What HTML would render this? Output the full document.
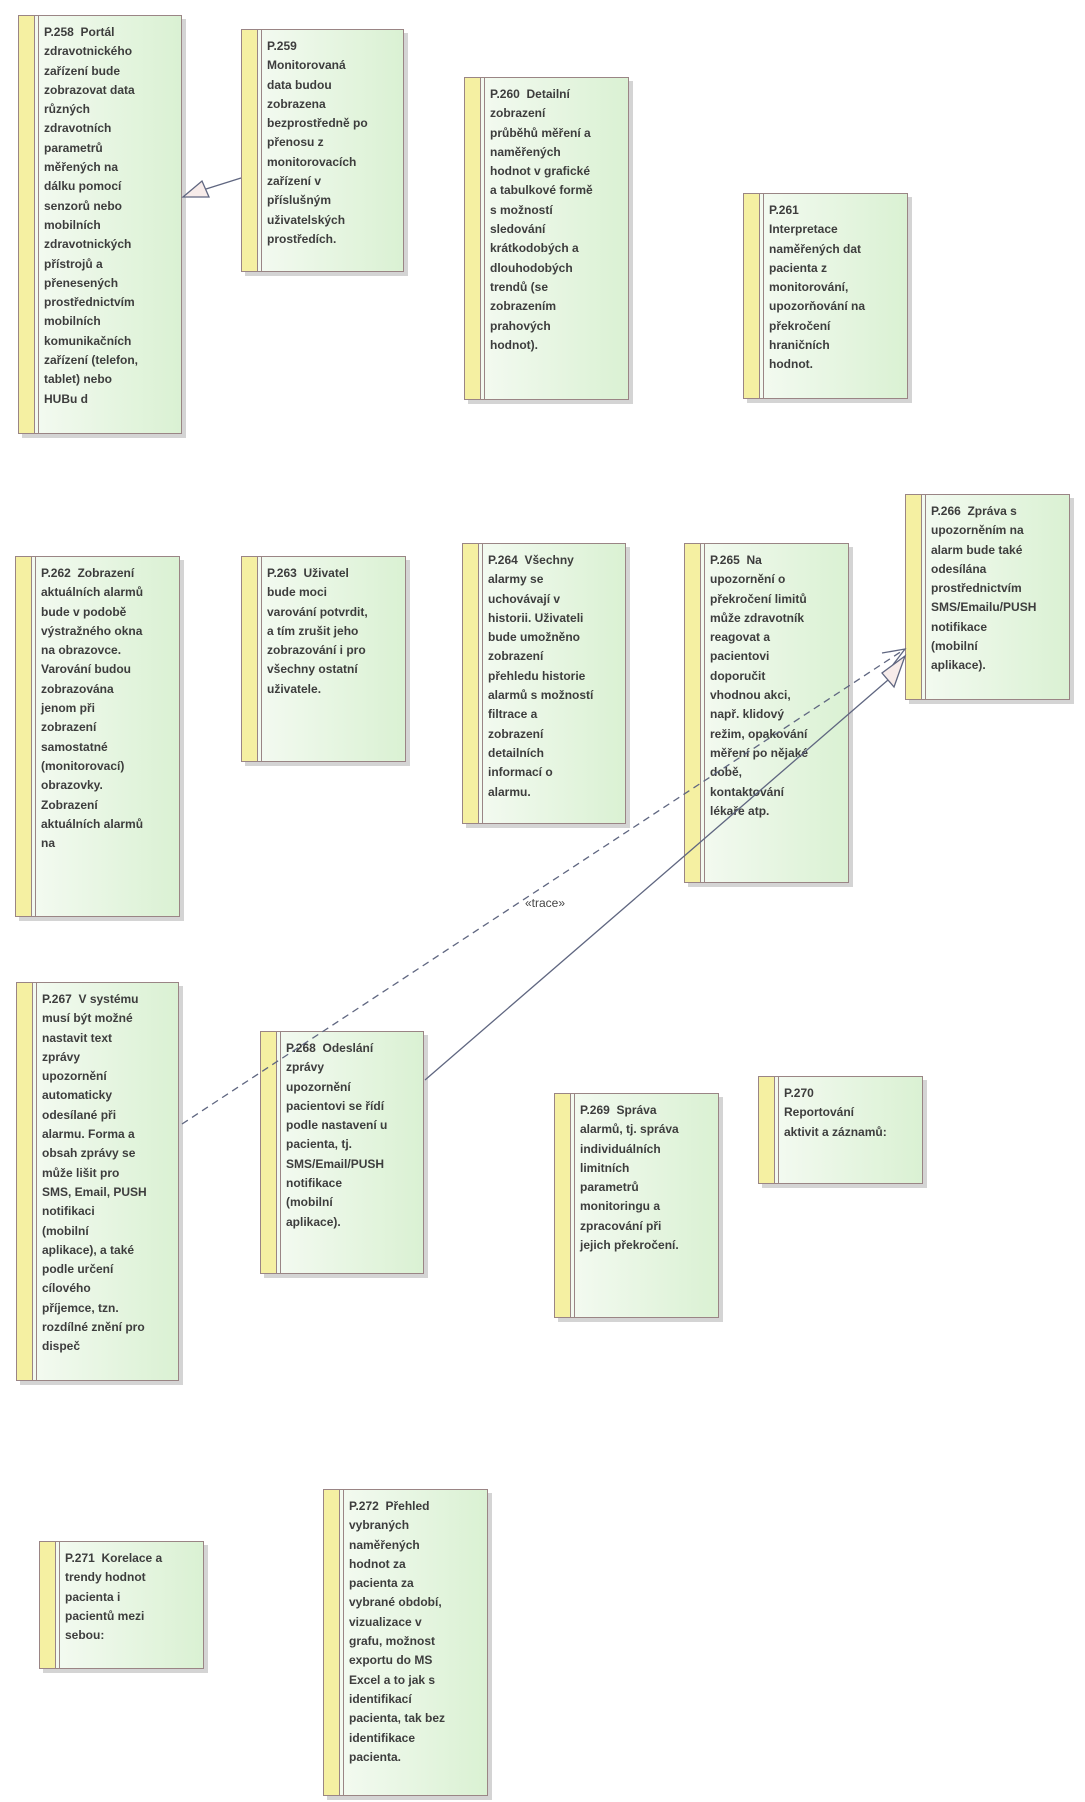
<!DOCTYPE html>
<html><head><meta charset="utf-8"><style>
body{margin:0;width:1085px;height:1802px;background:#fff;position:relative;overflow:hidden;font-family:"Liberation Sans",sans-serif;}
.b{position:absolute;box-sizing:border-box;border:1.5px solid #9a8585;background:linear-gradient(90deg,#f6fbf4,#daf1d3);box-shadow:4px 4px 0 #d4d4d4;}
.b:before{content:"";position:absolute;left:0;top:0;bottom:0;width:15px;background:#f5f0a2;border-right:1px solid #9a8585;}
.b:after{content:"";position:absolute;left:19px;top:0;bottom:0;width:0;border-left:1px solid #9a8585;}
.t{position:absolute;left:25px;top:7px;font-size:12px;font-weight:bold;color:#3d3d3d;line-height:19.3px;white-space:nowrap;}
svg{position:absolute;left:0;top:0;}
</style></head><body>
<div class="b" style="left:18px;top:15px;width:164px;height:419px"><div class="t">P.258&nbsp; Portál<br>zdravotnického<br>zařízení bude<br>zobrazovat data<br>různých<br>zdravotních<br>parametrů<br>měřených na<br>dálku pomocí<br>senzorů nebo<br>mobilních<br>zdravotnických<br>přístrojů a<br>přenesených<br>prostřednictvím<br>mobilních<br>komunikačních<br>zařízení (telefon,<br>tablet) nebo<br>HUBu d</div></div>
<div class="b" style="left:241px;top:29px;width:163px;height:243px"><div class="t">P.259<br>Monitorovaná<br>data budou<br>zobrazena<br>bezprostředně po<br>přenosu z<br>monitorovacích<br>zařízení v<br>příslušným<br>uživatelských<br>prostředích.</div></div>
<div class="b" style="left:464px;top:77px;width:165px;height:323px"><div class="t">P.260&nbsp; Detailní<br>zobrazení<br>průběhů měření a<br>naměřených<br>hodnot v grafické<br>a tabulkové formě<br>s možností<br>sledování<br>krátkodobých a<br>dlouhodobých<br>trendů (se<br>zobrazením<br>prahových<br>hodnot).</div></div>
<div class="b" style="left:743px;top:193px;width:165px;height:206px"><div class="t">P.261<br>Interpretace<br>naměřených dat<br>pacienta z<br>monitorování,<br>upozorňování na<br>překročení<br>hraničních<br>hodnot.</div></div>
<div class="b" style="left:15px;top:556px;width:165px;height:361px"><div class="t">P.262&nbsp; Zobrazení<br>aktuálních alarmů<br>bude v podobě<br>výstražného okna<br>na obrazovce.<br>Varování budou<br>zobrazována<br>jenom při<br>zobrazení<br>samostatné<br>(monitorovací)<br>obrazovky.<br>Zobrazení<br>aktuálních alarmů<br>na</div></div>
<div class="b" style="left:241px;top:556px;width:165px;height:206px"><div class="t">P.263&nbsp; Uživatel<br>bude moci<br>varování potvrdit,<br>a tím zrušit jeho<br>zobrazování i pro<br>všechny ostatní<br>uživatele.</div></div>
<div class="b" style="left:462px;top:543px;width:164px;height:281px"><div class="t">P.264&nbsp; Všechny<br>alarmy se<br>uchovávají v<br>historii. Uživateli<br>bude umožněno<br>zobrazení<br>přehledu historie<br>alarmů s možností<br>filtrace a<br>zobrazení<br>detailních<br>informací o<br>alarmu.</div></div>
<div class="b" style="left:684px;top:543px;width:165px;height:340px"><div class="t">P.265&nbsp; Na<br>upozornění o<br>překročení limitů<br>může zdravotník<br>reagovat a<br>pacientovi<br>doporučit<br>vhodnou akci,<br>např. klidový<br>režim, opakování<br>měření po nějaké<br>době,<br>kontaktování<br>lékaře atp.</div></div>
<div class="b" style="left:905px;top:494px;width:165px;height:206px"><div class="t">P.266&nbsp; Zpráva s<br>upozorněním na<br>alarm bude také<br>odesílána<br>prostřednictvím<br>SMS/Emailu/PUSH<br>notifikace<br>(mobilní<br>aplikace).</div></div>
<div class="b" style="left:16px;top:982px;width:163px;height:399px"><div class="t">P.267&nbsp; V systému<br>musí být možné<br>nastavit text<br>zprávy<br>upozornění<br>automaticky<br>odesílané při<br>alarmu. Forma a<br>obsah zprávy se<br>může lišit pro<br>SMS, Email, PUSH<br>notifikaci<br>(mobilní<br>aplikace), a také<br>podle určení<br>cílového<br>příjemce, tzn.<br>rozdílné znění pro<br>dispeč</div></div>
<div class="b" style="left:260px;top:1031px;width:164px;height:243px"><div class="t">P.268&nbsp; Odeslání<br>zprávy<br>upozornění<br>pacientovi se řídí<br>podle nastavení u<br>pacienta, tj.<br>SMS/Email/PUSH<br>notifikace<br>(mobilní<br>aplikace).</div></div>
<div class="b" style="left:554px;top:1093px;width:165px;height:225px"><div class="t">P.269&nbsp; Správa<br>alarmů, tj. správa<br>individuálních<br>limitních<br>parametrů<br>monitoringu a<br>zpracování při<br>jejich překročení.</div></div>
<div class="b" style="left:758px;top:1076px;width:165px;height:108px"><div class="t">P.270<br>Reportování<br>aktivit a záznamů:</div></div>
<div class="b" style="left:39px;top:1541px;width:165px;height:128px"><div class="t">P.271&nbsp; Korelace a<br>trendy hodnot<br>pacienta i<br>pacientů mezi<br>sebou:</div></div>
<div class="b" style="left:323px;top:1489px;width:165px;height:307px"><div class="t">P.272&nbsp; Přehled<br>vybraných<br>naměřených<br>hodnot za<br>pacienta za<br>vybrané období,<br>vizualizace v<br>grafu, možnost<br>exportu do MS<br>Excel a to jak s<br>identifikací<br>pacienta, tak bez<br>identifikace<br>pacienta.</div></div>
<svg width="1085" height="1802">
<g stroke="#5f6680" stroke-width="1.3" fill="none">
<line x1="241" y1="178" x2="206" y2="189"/>
<polygon points="183,197 202,181 209,197" fill="#f7ecea"/>
<line x1="182" y1="1124" x2="905" y2="649" stroke-dasharray="7,5"/>
<polyline points="882,653 905,649 892,666"/>
<line x1="425" y1="1080" x2="888" y2="680"/>
<polygon points="905,656 882,673 894,687" fill="#f7ecea"/>
</g>
<text x="545" y="907" font-family="Liberation Sans,sans-serif" font-size="12" fill="#444" text-anchor="middle">«trace»</text>
</svg>
</body></html>
